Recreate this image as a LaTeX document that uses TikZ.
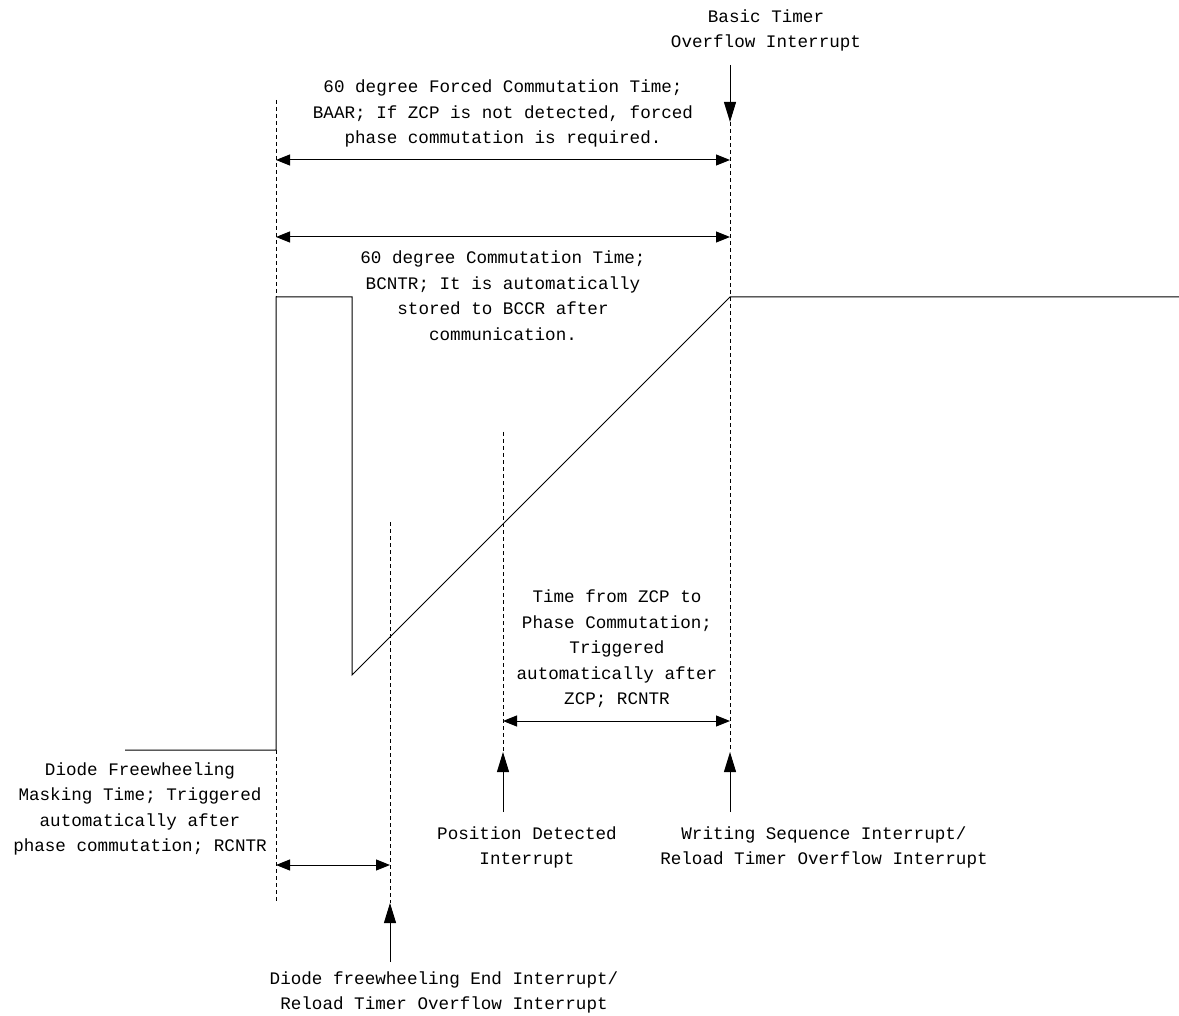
\documentclass[tikz,border=0pt]{standalone}
\usepackage{fontspec}
\setmonofont{Liberation Mono}
\usetikzlibrary{arrows.meta}
\begin{document}
\begin{tikzpicture}[x=1pt,y=-1pt,
  txt/.style={font=\ttfamily\fontsize{17.6}{25.5}\selectfont, align=center, inner sep=0pt},
  sig/.style={line width=1pt},
  guide/.style={line width=0.9pt, dash pattern=on 4pt off 3pt},
  dim/.style={line width=1pt, {Triangle[length=14pt,width=11pt]}-{Triangle[length=14pt,width=11pt]}},
  evt/.style={line width=1pt, -{Triangle[length=20pt,width=12pt]}}]
\useasboundingbox (0,0) rectangle (1179,1016);
% signal waveform
\coordinate (s0) at (125,750);
\coordinate (s1) at (276,750);
\coordinate (s2) at (276,297);
\coordinate (s3) at (352,297);
\coordinate (s4) at (352,675);
\coordinate (s5) at (730,297);
\coordinate (s6) at (1179,297);
\draw[sig] (s0) -- (s1) -- (s2) -- (s3) -- (s4) -- (s5) -- (s6);
% guide lines
\coordinate (gA1) at (276,100);
\coordinate (gA2) at (276,902);
\coordinate (gB1) at (730,122);
\coordinate (gB2) at (730,752);
\coordinate (gC1) at (390,522);
\coordinate (gC2) at (390,903);
\coordinate (gD1) at (503,432);
\coordinate (gD2) at (503,752);
\draw[guide] (gA1) -- (s2);
\draw[guide] (s1) -- (gA2);
\draw[guide] (gB1) -- (gB2);
\draw[guide] (gC1) -- (gC2);
\draw[guide] (gD1) -- (gD2);
% dimension arrows
\coordinate (d1a) at (276,160); \coordinate (d1b) at (730,160);
\coordinate (d2a) at (276,237); \coordinate (d2b) at (730,237);
\coordinate (d3a) at (276,865); \coordinate (d3b) at (390,865);
\coordinate (d4a) at (503,721); \coordinate (d4b) at (730,721);
\draw[dim] (d1a) -- (d1b);
\draw[dim] (d2a) -- (d2b);
\draw[dim] (d3a) -- (d3b);
\draw[dim] (d4a) -- (d4b);
% event arrows
\coordinate (e1) at (730,65);
\coordinate (e2) at (390,962);
\coordinate (e3) at (503,812);
\coordinate (e4) at (730,812);
\draw[evt] (e1) -- (gB1);
\draw[evt] (e2) -- (gC2);
\draw[evt] (e3) -- (gD2);
\draw[evt] (e4) -- (gB2);
% labels
\node[txt] (tBasic) at (766,30.5) {Basic Timer\\Overflow Interrupt};
\node[txt] (tForced) at (503,113.5) {60 degree Forced Commutation Time;\\BAAR; If ZCP is not detected, forced\\phase commutation is required.};
\node[txt] (tComm) at (503,295.5) {60 degree Commutation Time;\\BCNTR; It is automatically\\stored to BCCR after\\communication.};
\node[txt] (tMask) at (140,809) {Diode Freewheeling\\Masking Time; Triggered\\automatically after\\phase commutation; RCNTR};
\node[txt] (tPos) at (527,847.5) {Position Detected\\Interrupt};
\node[txt] (tEnd) at (444,992.5) {Diode freewheeling End Interrupt/\\Reload Timer Overflow Interrupt};
\node[txt] (tZcp) at (617,649) {Time from ZCP to\\Phase Commutation;\\Triggered\\automatically after\\ZCP; RCNTR};
\node[txt] (tWrite) at (824,847.5) {Writing Sequence Interrupt/\\Reload Timer Overflow Interrupt};
\end{tikzpicture}
\end{document}
